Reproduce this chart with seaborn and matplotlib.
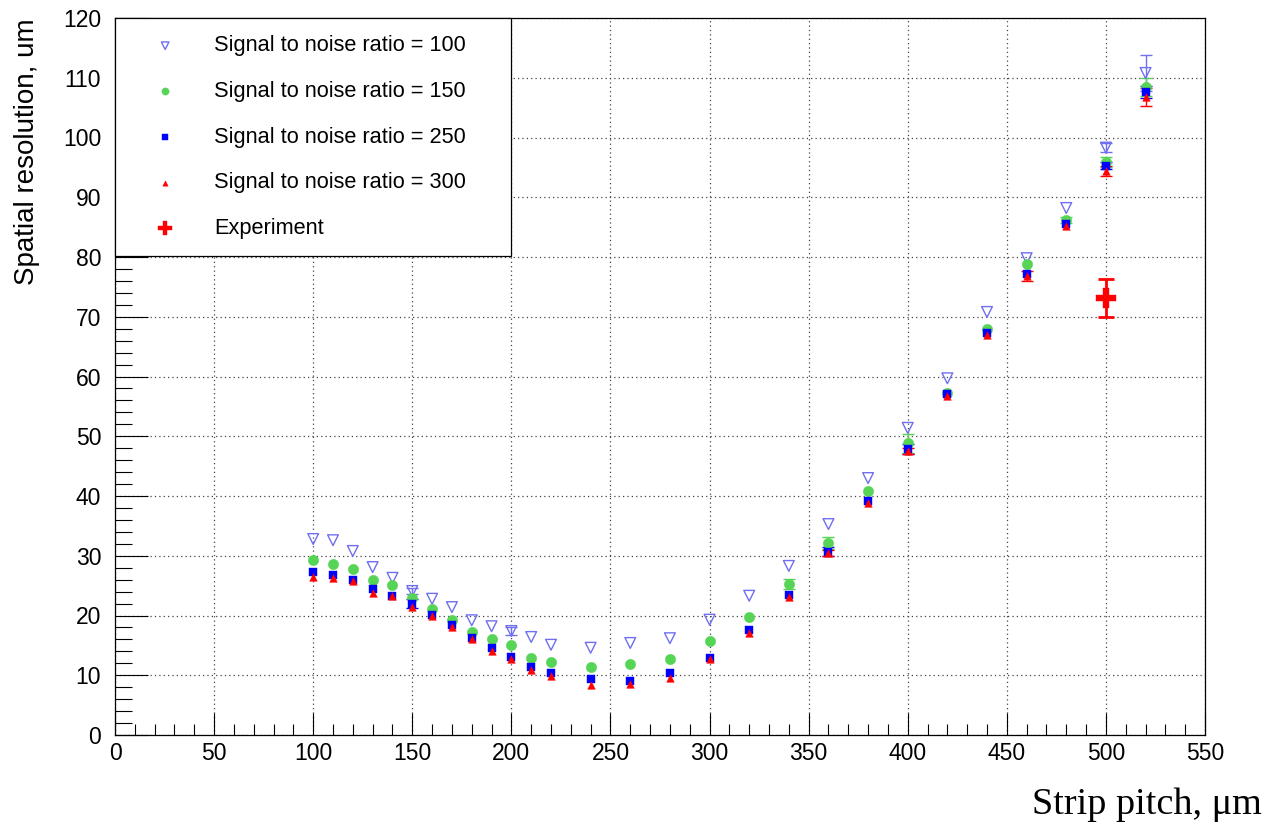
import numpy as np
import pandas as pd
import matplotlib
matplotlib.use("Agg")
import matplotlib.pyplot as plt
from matplotlib.ticker import MultipleLocator
import seaborn as sns

# ---------------- data ----------------
pitch = [100, 110, 120, 130, 140, 150, 160, 170, 180, 190, 200, 210, 220,
         240, 260, 280, 300, 320, 340, 360, 380, 400, 420, 440, 460, 480, 500, 520]

snr100 = [32.8, 32.6, 30.8, 28.1, 26.3, 24.1, 22.8, 21.4, 19.2, 18.2, 17.4, 16.4, 15.1,
          14.6, 15.4, 16.2, 19.3, 23.3, 28.3, 35.3, 43.0, 51.4, 59.7, 70.8, 79.8, 88.2, 98.3, 110.8]
snr100_err = [0, 0, 0, 0, 0, 0.5, 0, 0, 0, 0, 0.6, 0, 0,
              0, 0, 0, 0, 0, 0, 0, 0, 0, 0, 0, 0, 0, 0.7, 3.0]

snr150 = [29.3, 28.7, 27.7, 25.9, 25.1, 22.9, 21.1, 19.2, 17.3, 16.1, 15.0, 12.9, 12.2,
          11.3, 11.8, 12.7, 15.8, 19.7, 25.3, 32.2, 40.8, 48.8, 57.2, 67.9, 78.8, 86.2, 95.9, 108.5]
snr150_err = [0, 0, 0, 0, 0, 0, 0, 0, 0, 0, 0, 0, 0,
              0, 0, 0, 0, 0, 0.8, 1.0, 0, 1.6, 0, 0, 0, 0.5, 0.8, 1.5]

snr250 = [27.2, 26.8, 25.9, 24.5, 23.3, 22.0, 20.1, 18.4, 16.3, 14.5, 13.0, 11.3, 10.3,
          9.3, 9.0, 10.3, 12.9, 17.6, 23.4, 30.7, 39.2, 47.9, 57.1, 67.2, 77.1, 85.6, 95.3, 107.6]
snr250_err = [0, 0, 0, 0, 0, 0.8, 0, 0, 0, 0, 0, 0, 0,
              0, 0, 0, 0, 0, 0, 0.7, 0, 0.8, 0, 0, 0, 0, 0.6, 1.0]

snr300 = [26.4, 26.2, 25.7, 23.8, 23.2, 21.5, 19.9, 18.0, 16.1, 14.1, 12.8, 10.9, 9.9,
          8.4, 8.5, 9.6, 12.7, 17.1, 23.1, 30.4, 38.8, 47.6, 56.7, 66.9, 76.8, 85.2, 94.4, 106.8]
snr300_err = [0, 0, 0, 0, 0, 0, 0, 0, 0, 0, 0, 0, 0,
              0, 0, 0, 0, 0, 0, 0.5, 0, 0.5, 0, 0, 0.8, 0, 0.9, 1.5]

exp_pitch = [500]
exp_res = [73.1]
exp_err = [3.2]

labels = ["Signal to noise ratio = 100", "Signal to noise ratio = 150",
          "Signal to noise ratio = 250", "Signal to noise ratio = 300", "Experiment"]

xticks = list(range(0, 551, 50))
yticks = list(range(0, 121, 10))

# ---------------- style ----------------
sns.set_theme(style="white")
plt.rcParams["font.family"] = ["Liberation Sans", "DejaVu Sans"]

fig = plt.figure(figsize=(12.74, 8.32), dpi=100)
ax = fig.add_axes([115 / 1274, 1 - 735 / 832, 1090 / 1274, 717 / 832])

c100 = "#6f6ff0"
c150 = "#55d455"
c250 = "#0000ff"
c300 = "#ff0000"

series = [
    (snr100, snr100_err, c100, "v", 60, True),
    (snr150, snr150_err, c150, "o", 56, False),
    (snr250, snr250_err, c250, "s", 40, False),
    (snr300, snr300_err, c300, "^", 30, False),
]

for (vals, errs, col, mk, sz, hollow), lab in zip(series, labels[:4]):
    df = pd.DataFrame({"pitch": pitch, "res": vals, "err": errs})
    de = df[df["err"] > 0]
    ax.errorbar(de["pitch"], de["res"], yerr=de["err"], fmt="none", ecolor=col,
                elinewidth=1.0, capsize=4, capthick=1.0, zorder=2)
    if hollow:
        sns.scatterplot(data=df, x="pitch", y="res", ax=ax, marker=mk, s=sz,
                        facecolor="none", edgecolor=col, linewidth=1.0,
                        label=lab, zorder=3)
    else:
        sns.scatterplot(data=df, x="pitch", y="res", ax=ax, marker=mk, s=sz,
                        color=col, edgecolor=col, linewidth=0.3,
                        label=lab, zorder=3)

dfe = pd.DataFrame({"pitch": exp_pitch, "res": exp_res})
ax.errorbar(exp_pitch, exp_res, yerr=exp_err, fmt="none", ecolor=c300,
            elinewidth=2.0, capsize=5.5, capthick=2.0, zorder=4)
sns.scatterplot(data=dfe, x="pitch", y="res", ax=ax, marker="P", s=190,
                color=c300, edgecolor=c300, linewidth=0.3, label=labels[4], zorder=5)

# ---------------- axes ----------------
ax.set_xlim(0, 550)
ax.set_ylim(0, 120)
ax.set_xticks(xticks)
ax.set_yticks(yticks)
ax.xaxis.set_minor_locator(MultipleLocator(10))
ax.yaxis.set_minor_locator(MultipleLocator(2))
ax.tick_params(axis="x", which="major", direction="in", length=16, width=0.8,
               color="black", labelsize=16.5, pad=5, top=False, bottom=True)
ax.tick_params(axis="x", which="minor", direction="in", length=8, width=0.8,
               color="black", top=False, bottom=True)
ax.tick_params(axis="y", which="major", direction="in", length=24, width=0.8,
               color="black", labelsize=16.5, pad=10, left=True, right=False)
ax.tick_params(axis="y", which="minor", direction="in", length=12, width=0.8,
               color="black", left=True, right=False)
for lbl in ax.get_xticklabels() + ax.get_yticklabels():
    lbl.set_color("black")

ax.grid(True, which="major", color="#444444", linestyle=(0, (1, 2.5)), linewidth=0.9)
ax.set_axisbelow(True)
for sp in ax.spines.values():
    sp.set_visible(True)
    sp.set_color("black")
    sp.set_linewidth(0.9)

ax.set_ylabel("Spatial resolution, um", fontsize=20, color="black", loc="top")
ax.yaxis.set_label_coords(-0.069, 1.0)
ax.set_xlabel("Strip pitch, \u03bcm", fontsize=27.5, color="black",
              family=["Liberation Serif", "DejaVu Serif"])
ax.xaxis.set_label_coords((1262 - 115) / 1090, -0.110)
ax.xaxis.label.set_horizontalalignment("right")
ax.xaxis.label.set_verticalalignment("baseline")

leg = ax.legend(loc="upper left", bbox_to_anchor=(0.0, 0.6667, 0.3633, 0.3333),
                mode="expand", borderaxespad=0, fontsize=15.7, frameon=True,
                fancybox=False, edgecolor="black", framealpha=1,
                labelspacing=1.13, borderpad=0.8, handlelength=3.0,
                handletextpad=0.75, markerscale=0.7)
leg.get_frame().set_linewidth(0.9)
for t in leg.get_texts():
    t.set_color("black")

fig.savefig("out.png", dpi=100, facecolor="white")
